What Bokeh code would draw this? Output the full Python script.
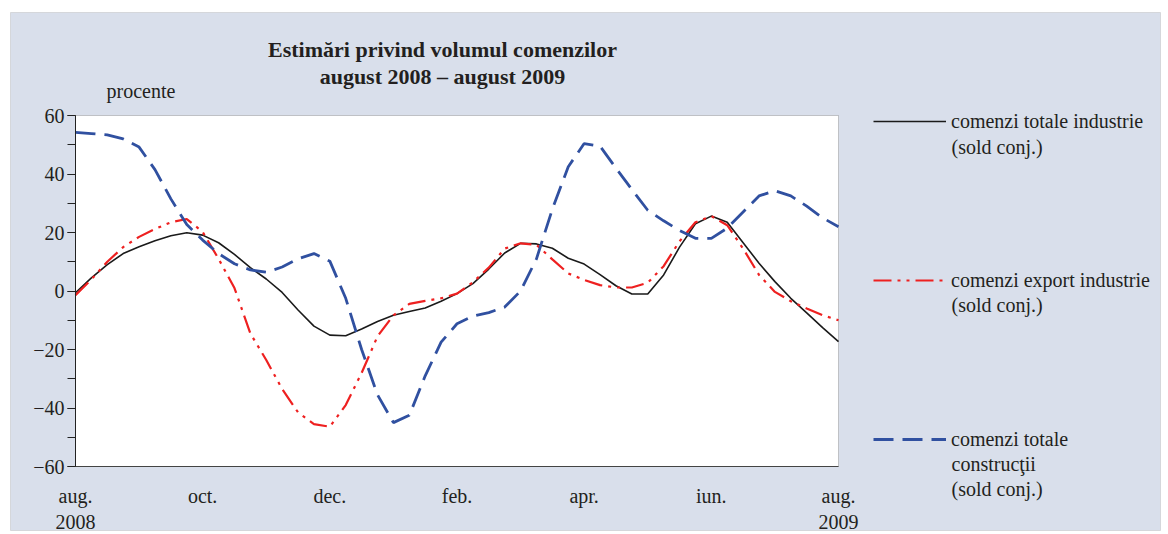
from bokeh.plotting import figure
from bokeh.models import (Range1d, SingleIntervalTicker, FixedTicker, Label,
                          Legend, LegendItem, ColumnDataSource, BoxAnnotation)
from bokeh.embed import file_html
from bokeh.resources import INLINE

# ---------------- data ----------------
# month index: 0 = aug. 2008 ... 12 = aug. 2009, one value every quarter month
months = [i * 0.25 for i in range(49)]

industrie_total = [-0.6, 4.5, 9, 12.8, 15.1, 17.2, 18.9, 19.9, 19.1, 16.5, 12.5, 8, 4.1,
                   -0.5, -6.5, -12, -15.1, -15.3, -13, -10.4, -8.3, -7, -5.8, -3.5, -0.9,
                   2.5, 7.5, 13, 16.3, 16.1, 14.6, 11.2, 9.2, 5.6, 1.8, -1, -1,
                   5.5, 15, 23, 25.6, 23.5, 16.5, 9.5, 3.2, -2.5, -7.5, -12.5, -17.3]

industrie_export = [-1.4, 4, 10, 15, 18.5, 21.2, 23.5, 24.6, 20.2, 11, 1, -14.5, -23.6,
                    -33.5, -41.5, -45.5, -46.4, -39, -28, -15.5, -8.3, -4.4, -3.4, -2.5, -0.9,
                    3, 8, 14.5, 16.3, 15.8, 10.8, 6, 3.8, 2, 1.2, 1.2, 2.8,
                    8.5, 17, 23.5, 25.6, 22.5, 14.5, 5.5, -0.3, -3.5, -6, -8.3, -10]

constructii = [54.2, 53.8, 53.4, 52, 49.2, 41.5, 31.5, 22.7, 17.4, 12.8, 9.3, 7.2, 6.4,
               8.2, 11, 12.8, 10.2, -2.5, -20, -35.5, -45, -42.5, -29, -17.5, -11.2,
               -8.6, -7.4, -5.5, 0, 11, 28, 42.5, 50.4, 49.5, 42, 34.7, 27.6,
               24, 20.7, 18, 18, 21.5, 27, 32.5, 34.3, 32.5, 29, 25, 22]

month_lines = list(range(1, 12))
tick_months = [0, 2, 4, 6, 8, 10, 12]
tick_labels = ["aug.\n2008", "oct.", "dec.", "feb.", "apr.", "iun.", "aug.\n2009"]
x_bounds = (0, 12)
y_bounds = (-60, 60)

# legend: first line next to the line sample, further lines below it
series_first = ["comenzi totale industrie", "comenzi export industrie", "comenzi totale"]
series_more = [["(sold conj.)"], ["(sold conj.)"], ["construcţii", "(sold conj.)"]]
title_lines = ["Estimări privind volumul comenzilor", "august 2008 – august 2009"]
unit_label = "procente"

# ---------------- layout (pixels) ----------------
W, H = 1168, 534
X0_PX, X1_PX = 75, 838      # plot area left / right
YT_PX, YB_PX = 115, 466     # plot area top / bottom
sx = (X1_PX - X0_PX) / (x_bounds[1] - x_bounds[0])
sy = (YB_PX - YT_PX) / (y_bounds[1] - y_bounds[0])


def px2x(px):
    return x_bounds[0] + (px - X0_PX) / sx


def px2y(py):
    return y_bounds[0] + (YB_PX - py) / sy


FONT = "Liberation Serif"
TXT = "#231f20"
BG = "#d9dfeb"
FS = "20px"

p = figure(width=W, height=H, output_backend="svg", toolbar_location=None,
           x_range=Range1d(px2x(0), px2x(W)), y_range=Range1d(px2y(H), px2y(0)),
           min_border=0, min_border_left=0, min_border_right=0,
           min_border_top=0, min_border_bottom=0)
p.border_fill_color = "white"
p.background_fill_color = "white"
p.outline_line_color = None
p.xgrid.visible = False
p.ygrid.visible = False

# page background and white plot area
p.add_layout(BoxAnnotation(left=px2x(10), right=px2x(1160), top=px2y(12), bottom=px2y(530),
                           fill_color=BG, fill_alpha=1, line_color="#a0a0a0", line_width=1,
                           level="underlay"))
p.add_layout(BoxAnnotation(left=x_bounds[0], right=x_bounds[1], top=y_bounds[1], bottom=y_bounds[0],
                           fill_color="white", fill_alpha=1, line_color="#555555", line_width=1,
                           level="underlay"))

# axes
yax = p.yaxis[0]
yax.fixed_location = x_bounds[0]
yax.bounds = y_bounds
yax.ticker = SingleIntervalTicker(interval=20, num_minor_ticks=2)
yax.major_label_text_font = FONT
yax.major_label_text_font_size = FS
yax.major_label_text_color = TXT
yax.major_tick_out = 8
yax.major_tick_in = 0
yax.minor_tick_out = 8
yax.minor_tick_in = 0
yax.axis_line_color = "#222222"
yax.major_tick_line_color = "#222222"
yax.minor_tick_line_color = "#222222"
yax.major_label_standoff = 3

xax = p.xaxis[0]
xax.fixed_location = y_bounds[0]
xax.bounds = x_bounds
xax.ticker = FixedTicker(ticks=tick_months)
xax.major_label_overrides = {m: l for m, l in zip(tick_months, tick_labels)}
xax.major_label_text_font = FONT
xax.major_label_text_font_size = FS
xax.major_label_text_color = TXT
xax.major_tick_out = 0
xax.major_tick_in = 0
xax.minor_tick_line_color = None
xax.axis_line_color = "#444444"
xax.major_label_standoff = 18

# vertical month lines and zero line
p.segment(x0=month_lines, x1=month_lines, y0=[y_bounds[0]] * len(month_lines),
          y1=[y_bounds[1]] * len(month_lines), line_color="#333333", line_width=1,
          level="underlay")
p.segment(x0=[x_bounds[0]], x1=[x_bounds[1]], y0=[0], y1=[0], line_color="#808080",
          line_width=1.6, level="underlay")

src = ColumnDataSource(dict(m=months, a=industrie_total, b=industrie_export, c=constructii))
r1 = p.line("m", "a", source=src, line_color="#1a1a1a", line_width=1.6)
r2 = p.line("m", "b", source=src, line_color="#ee2020", line_width=2.2,
            line_dash="18 6 3 6 3 6")
r3 = p.line("m", "c", source=src, line_color="#3050a0", line_width=2.8,
            line_dash="20 9")

legend = Legend(items=[LegendItem(label=series_first[0], renderers=[r1]),
                       LegendItem(label=series_first[1], renderers=[r2]),
                       LegendItem(label=series_first[2], renderers=[r3])],
                location=(873, 83))
legend.background_fill_alpha = 0
legend.border_line_color = None
legend.label_text_font = FONT
legend.label_text_font_size = FS
legend.label_text_color = TXT
legend.glyph_width = 73
legend.glyph_height = 24
legend.label_height = 24
legend.label_standoff = 5
legend.spacing = 135
legend.padding = 0
legend.margin = 0
p.add_layout(legend, "center")

# continuation lines of the legend entries
more_pos = [[146], [304], [463, 488]]
for lines, ys in zip(series_more, more_pos):
    for txt, py in zip(lines, ys):
        p.add_layout(Label(x=px2x(951), y=px2y(py), text=txt, text_font=FONT,
                           text_font_size=FS, text_color=TXT, text_baseline="alphabetic"))

# titles
for txt, py in zip(title_lines, [49, 76]):
    p.add_layout(Label(x=px2x(442), y=px2y(py), text=txt,
                       text_font=FONT, text_font_size="22px", text_font_style="bold",
                       text_color=TXT, text_align="center", text_baseline="alphabetic"))
p.add_layout(Label(x=px2x(106), y=px2y(90), text=unit_label,
                   text_font=FONT, text_font_size=FS, text_color=TXT,
                   text_baseline="alphabetic"))

open("out.html", "w").write(file_html(p, INLINE))
